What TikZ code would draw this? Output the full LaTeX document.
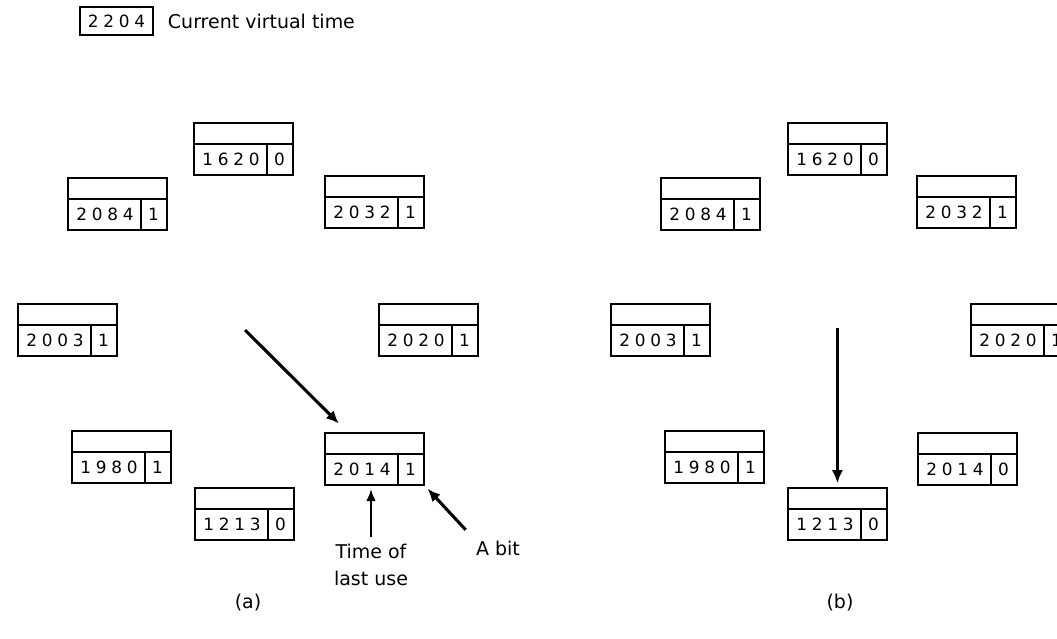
\documentclass[tikz,border=0pt]{standalone}
\usepackage{fontspec}
\setmainfont{DejaVu Sans}
\newfontfamily\digitfont[LetterSpace=28]{DejaVu Sans}
\usetikzlibrary{arrows.meta, positioning}

\begin{document}
\begin{tikzpicture}[
        x=0.025cm, y=-0.025cm,
        every node/.style={font=\fontsize{13.5}{15}\selectfont},
        entry/.style={draw, line width=1.3pt, minimum width=2.475cm, minimum height=1.3cm, inner sep=0pt, anchor=north west},
        num/.style={inner sep=0pt, font=\fontsize{12}{14}\digitfont},
        hand/.style={line width=2.2pt, -{Latex[length=3.2mm, width=2.8mm]}},
        pointer/.style={line width=1.4pt, -{Latex[length=3mm, width=2.4mm]}}
    ]
    \useasboundingbox (0,0) rectangle (1057,638);

    % Legend
    \node[draw, line width=1.3pt, minimum width=1.825cm, minimum height=0.7cm, inner sep=0pt, font=\fontsize{12}{14}\digitfont] (clock) at (116.5,21) {2204};
    \node[anchor=west] (clocktext) at (163,21) {Current virtual time};

    % Page entries (a) and (b)
    \foreach \nm/\x/\y/\t/\r in {
        e1/193/122/1620/0, e2/67/177/2084/1, e3/324/175/2032/1, e4/17/303/2003/1,
        e5/378/303/2020/1, e6/71/430/1980/1, e7/324/432/2014/1, e8/194/487/1213/0,
        f1/787/122/1620/0, f2/660/177/2084/1, f3/916/175/2032/1, f4/610/303/2003/1,
        f5/970/303/2020/1, f6/664/430/1980/1, f7/917/432/2014/0, f8/787/487/1213/0} {
        \node[entry] (\nm) at (\x,\y) {};
        \draw[line width=1.3pt] ([yshift=-0.55cm]\nm.north west) -- ([yshift=-0.55cm]\nm.north east);
        \draw[line width=1.3pt] ([xshift=1.85cm]\nm.south west) -- ([xshift=1.85cm, yshift=-0.55cm]\nm.north west);
        \node[num] (\nm-t) at ([xshift=0.95cm, yshift=-0.925cm]\nm.north west) {\t};
        \node[num] (\nm-r) at ([xshift=2.16cm, yshift=-0.925cm]\nm.north west) {\r};
    }

    % Clock hands
    \coordinate (hand a) at (245,330);
    \coordinate (hand b) at ([yshift=3.975cm]f8.north);
    \draw[hand, shorten >=0.3cm] (hand a) -- (e7);
    \draw[line width=1.6pt, -{Latex[length=3.2mm, width=2.8mm]}, shorten >=0.1cm] (hand b) -- (f8);

    % Labels on entry 2014
    \node[align=center, font=\fontsize{13.5}{19}\selectfont] (lastuse) at (371,565) {Time of\\last use};
    \node (rbit) at (498,548) {A bit};
    \draw[pointer, shorten <=0.05cm, shorten >=0.08cm] (lastuse.north) -- (lastuse.north |- e7.south);
    \draw[hand, shorten <=0.2cm, shorten >=0.1cm] (rbit.north west) -- (e7.south east);

    % Captions
    \node (capa) at (248,603) {(a)};
    \node (capb) at (840,603) {(b)};
\end{tikzpicture}
\end{document}
